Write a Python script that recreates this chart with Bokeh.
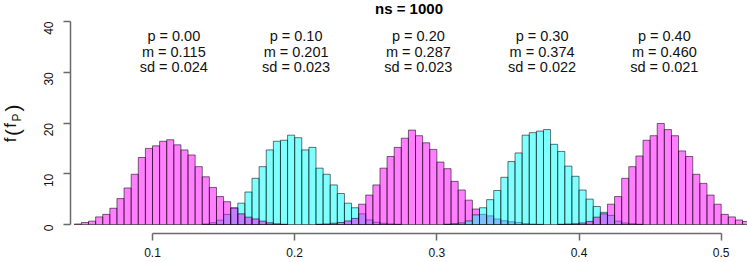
import math
from bokeh.plotting import figure
from bokeh.models import Range1d, FixedTicker
from bokeh.core.properties import value
from bokeh.embed import file_html
from bokeh.resources import INLINE

# ---------------- data ----------------
BIN = 0.005
hist_p = ["0.00", "0.10", "0.20", "0.30", "0.40"]
hist_m = [0.115, 0.201, 0.287, 0.374, 0.460]
hist_sd = [0.024, 0.023, 0.023, 0.022, 0.021]
hist_start = [0.045, 0.135, 0.215, 0.305, 0.385]
hist_color = ["magenta", "cyan", "magenta", "cyan", "magenta"]

dens_p00 = [0.1, 0.4, 0.66, 1.5, 2.0, 3.2, 5.1, 7.2, 9.9, 13.2, 15.0, 15.5, 16.4, 16.7,
            15.7, 14.7, 13.7, 11.4, 9.4, 7.3, 5.5, 4.5, 3.3, 2.1, 1.45, 1.1, 0.66, 0.33,
            0.13, 0.05]
dens_p10 = [0.1, 0.35, 0.85, 2.0, 3.2, 4.2, 6.4, 9.1, 11.4, 14.7, 16.4, 16.6, 17.6, 17.1,
            14.7, 15.2, 11.1, 9.9, 7.8, 6.1, 4.2, 3.3, 2.1, 0.9, 0.45, 0.25, 0.12, 0.05]
dens_p20 = [0.05, 0.1, 0.25, 0.4, 0.7, 1.2, 4.0, 5.8, 7.8, 11.1, 13.4, 15.2, 17.0, 18.6,
            17.5, 16.1, 14.8, 12.3, 11.0, 8.5, 6.8, 4.8, 3.05, 2.0, 1.7, 1.1, 0.75, 0.55,
            0.4, 0.2, 0.1, 0.05]
dens_p30 = [0.05, 0.15, 0.3, 0.7, 1.9, 3.3, 4.9, 6.7, 9.3, 12.4, 14.1, 17.6, 18.1, 18.4,
            18.7, 15.8, 14.4, 11.5, 9.5, 6.8, 5.0, 3.55, 2.4, 1.8, 0.66, 0.3, 0.15, 0.05]
dens_p40 = [0.05, 0.1, 0.15, 0.3, 0.6, 1.45, 2.1, 4.0, 5.5, 9.1, 11.4, 13.5, 16.6, 17.5,
            19.9, 18.7, 17.5, 14.5, 13.4, 9.9, 8.1, 5.8, 4.0, 2.0, 1.5, 0.9, 0.6, 0.3]
densities = [dens_p00, dens_p10, dens_p20, dens_p30, dens_p40]
draw_order = [1, 0, 2, 3, 4]

x_ticks = [0.1, 0.2, 0.3, 0.4, 0.5]
y_ticks = [0, 10, 20, 30, 40]
title_text = "ns = 1000"

FONT = "Liberation Sans"

# ---------------- layout helpers (pixel -> data for text placement) ----------------
W, H = 747, 262
X0_PX, XS = 152.0, 1421.75      # pixel of x=0.1, pixels per x unit
Y0_PX, YS = 224.0, 5.075        # pixel of y=0, pixels per y unit


def px_x(px):
    return 0.1 + (px - X0_PX) / XS


def px_y(py):
    return (Y0_PX - py) / YS


p = figure(width=W, height=H, output_backend="svg", toolbar_location=None,
           x_range=Range1d(px_x(0), px_x(W)), y_range=Range1d(px_y(H), px_y(0)),
           min_border_left=0, min_border_right=0, min_border_top=0, min_border_bottom=0)
p.outline_line_color = None
p.xgrid.visible = False
p.ygrid.visible = False
p.background_fill_color = "white"
p.border_fill_color = "white"

for k in draw_order:
    d = densities[k]
    left = [round(hist_start[k] + i * BIN, 4) for i in range(len(d))]
    right = [round(l + BIN, 4) for l in left]
    p.quad(left=left, right=right, top=d, bottom=0,
           fill_color=hist_color[k], fill_alpha=0.5,
           line_color="black", line_alpha=0.55, line_width=1)

# stats text above each histogram
for row, ypx in ((["p = " + s for s in hist_p], 35.0),
                 (["m = %.3f" % m for m in hist_m], 51.7),
                 (["sd = %.3f" % s for s in hist_sd], 66.7)):
    p.text(x=hist_m, y=[px_y(ypx)] * len(hist_m), text=row,
           text_align="center", text_baseline="alphabetic",
           text_font=value(FONT), text_font_size="14.5px", text_color="#111111")

# axes in R style, pinned at the edges of R's plot region
for ax in (p.xaxis[0], p.yaxis[0]):
    ax.axis_line_color = "#6a6a6a"
    ax.axis_line_width = 1.5
    ax.major_tick_line_color = "#6a6a6a"
    ax.major_tick_line_width = 1.5
    ax.major_tick_in = 0
    ax.major_tick_out = 7
    ax.minor_tick_line_color = None
    ax.major_label_text_font = FONT
    ax.major_label_text_font_size = "12px"
    ax.major_label_text_color = "#111111"

p.xaxis.ticker = FixedTicker(ticks=x_ticks)
p.xaxis.bounds = (x_ticks[0], x_ticks[-1])
p.xaxis.major_label_overrides = {t: "%g" % t for t in x_ticks}
p.xaxis.major_label_standoff = 8
p.xaxis.fixed_location = px_y(232.5)

p.yaxis.ticker = FixedTicker(ticks=y_ticks)
p.yaxis.bounds = (y_ticks[0], y_ticks[-1])
p.yaxis.major_label_orientation = math.pi / 2
p.yaxis.major_label_standoff = 15
p.yaxis.fixed_location = px_x(70)

# title
p.text(x=[(px_x(70) + px_x(W)) / 2], y=[px_y(7.5)], text=[title_text],
       text_align="center", text_baseline="middle", text_font=value(FONT),
       text_font_size="15px", text_font_style="bold", text_color="black")

# y axis label f(f_P)
for txt, xx, yy, fs in [("f", 9.5, 139.5, "17px"), ("(", 11.5, 132, "21px"),
                        ("f", 9.5, 125, "17px"), ("P", 16.5, 117, "12px"),
                        (")", 11.5, 107.5, "21px")]:
    p.text(x=[px_x(xx)], y=[px_y(yy)], text=[txt], angle=math.pi / 2,
           text_align="center", text_baseline="middle",
           text_font=value(FONT), text_font_size=fs, text_color="#111111")

open("out.html", "w").write(file_html(p, INLINE))
